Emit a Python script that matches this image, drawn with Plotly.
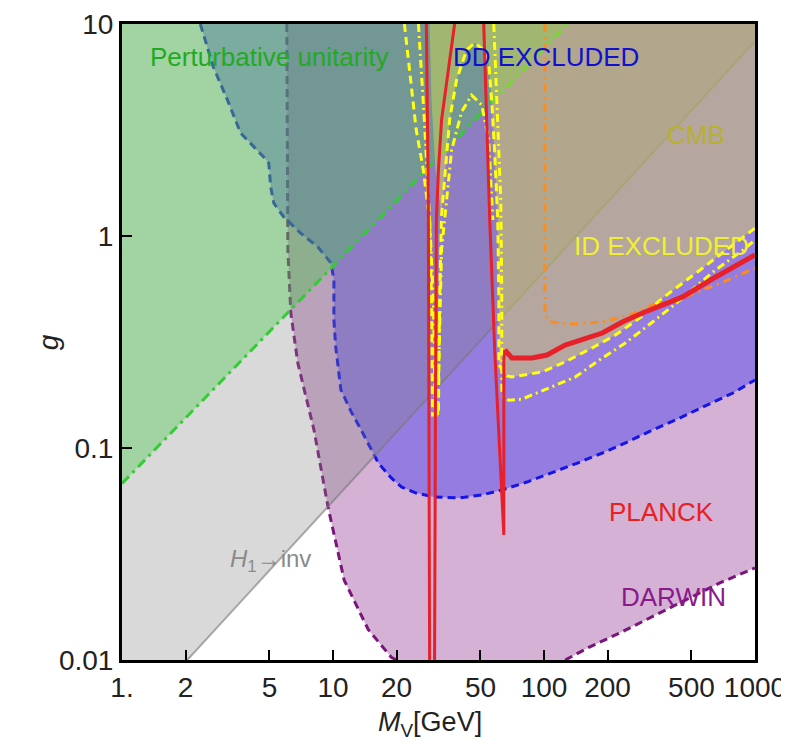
import plotly.graph_objects as go

# ---------------- data (M_V in GeV, g) ----------------
darwin_upper_M = [6.04, 6.11, 6.31, 6.81, 8.12, 9.47, 11.3, 14.7, 18.9, 19.95]
darwin_upper_g = [10, 0.859, 0.434, 0.252, 0.122, 0.0527, 0.0238, 0.0139, 0.0103, 0.01]
darwin_lower_M = [126, 164, 228, 327, 469, 681, 1000]
darwin_lower_g = [0.01, 0.0115, 0.0134, 0.016, 0.0192, 0.0231, 0.0272]

dd_M = [2.35, 2.71, 3.16, 3.65, 4.69, 4.96, 5.07, 5.24, 5.84, 7.04, 8.48, 9.78, 10.1, 10.1,
        10.3, 10.9, 12.2, 13.6, 16.4, 18.9, 21.1, 24.8, 30.3, 39.4, 50.7, 63.1, 83, 109, 144,
        189, 248, 327, 430, 565, 786, 1000]
dd_g = [10, 6.27, 4.38, 3.06, 2.36, 2.21, 1.70, 1.43, 1.23, 1.03, 0.887, 0.746, 0.62, 0.402,
        0.30, 0.188, 0.148, 0.1216, 0.0849, 0.0722, 0.0655, 0.0613, 0.0587, 0.0581, 0.060,
        0.0634, 0.0691, 0.0762, 0.0849, 0.0947, 0.1067, 0.1216, 0.137, 0.156, 0.1817, 0.2094]

pu_M = [1, 130]
pu_g = [0.068, 10]

inv_M = [2.04, 1000]
inv_g = [0.01, 8.3]

id_dash_M = [21.8, 24.8, 26.8, 28.7, 29.3, 29.6, 31.6, 32.0, 32.7, 35.7, 38.5, 43.0, 46.9, 51.8,
             54.7, 56.6, 58.4, 60.4, 61.1, 61.1, 66.7, 70.4, 97.8, 126, 169, 218, 293, 365, 565,
             786, 1000]
id_dash_g = [10, 3.16, 2.05, 1.19, 0.499, 0.143, 0.143, 0.499, 1.256, 3.53, 5.44, 7.54, 8.14, 7.54,
             6.55, 4.24, 2.46, 1.19, 0.499, 0.246, 0.2188, 0.2163, 0.2283, 0.2547, 0.2964, 0.341,
             0.4198, 0.51, 0.706, 0.907, 1.09]
id_edge_M = [28.7, 29.3, 30.6]
id_edge_g = [10, 4.38, 2.05]

id_dd_M = [25.4, 27.1, 28.7, 29.9, 30.6, None, 31.3, 32.7, 36.5, 40.7, 45.4, 50.7, 54.7, 57.2, None,
           57.8, 59.7, 62.4, 63.1, 63.1, 68.1, 78.6, 105.6, 140.5, 183, 243, 327, 454, 631, 877, 1000]
id_dd_g = [10, 3.53, 1.19, 0.499, 0.143, None, 0.143, 0.859, 2.55, 3.85, 4.62, 4.15, 2.84, 1.19, None,
           10, 4.38, 1.48, 0.499, 0.178, 0.168, 0.170, 0.192, 0.216, 0.26, 0.313, 0.393, 0.51, 0.676,
           0.859, 0.957]

cmb_M = [101, 101, 106.8, 136, 189, 262, 345, 454, 704, 1000]
cmb_g = [10, 0.424, 0.393, 0.3846, 0.393, 0.4286, 0.483, 0.51, 0.607, 0.706]

planck_left_M = [27.7, 28.3, 28.7, None, 37.7, 32.7, 31.6, 30.9, 30.6, 30.3]
planck_left_g = [10, 1.48, 0.01, None, 10, 3.53, 2.05, 1.19, 0.168, 0.01]
planck_right_M = [51.8, 53.5, 55.3, 58.4, 61.1, 64.5, 64.5, 64.5, 65.2]
planck_right_g = [10, 3.53, 1.19, 0.29, 0.109, 0.0389, 0.0979, 0.26, 0.29]
planck_high_M = [65.2, 70.4, 87.7, 103.3, 126, 189, 235, 293, 454, 652, 1000]
planck_high_g = [0.29, 0.2658, 0.2658, 0.2746, 0.306, 0.3486, 0.393, 0.4335, 0.516, 0.641, 0.814]

x_ticks = [1, 2, 5, 10, 20, 50, 100, 200, 500, 1000]
x_ticktext = ["1.", "2", "5", "10", "20", "50", "100", "200", "500", "1000"]
y_ticks = [0.01, 0.1, 1, 10]
y_ticktext = ["0.01", "0.1", "1", "10"]

FONT = "Liberation Sans, Arial, sans-serif"

fig = go.Figure()

def fill(xs, ys, color):
    fig.add_trace(go.Scatter(x=xs, y=ys, mode="lines", fill="toself", fillcolor=color,
                             line=dict(width=0), hoverinfo="skip", showlegend=False))

def line(xs, ys, color, width, dash="solid"):
    fig.add_trace(go.Scatter(x=xs, y=ys, mode="lines", line=dict(color=color, width=width, dash=dash),
                             connectgaps=False, hoverinfo="skip", showlegend=False))

# DARWIN
fill(darwin_upper_M + darwin_lower_M + [1000], darwin_upper_g + darwin_lower_g + [10],
     "rgba(150,60,150,0.40)")
line(darwin_upper_M + [None] + darwin_lower_M, darwin_upper_g + [None] + darwin_lower_g,
     "#7a157a", 3, "8px,5px")
# DD
fill(dd_M + [1000], dd_g + [10], "rgba(70,60,240,0.45)")
line(dd_M, dd_g, "#1515e6", 3, "8px,5px")
# H1 -> inv
fill([1] + inv_M + [1000, 1], [0.01] + inv_g + [10, 10], "rgba(128,128,128,0.30)")
line(inv_M, inv_g, "rgba(120,120,120,0.6)", 2)
# Perturbative unitarity
fill(pu_M + [1], pu_g + [10], "rgba(60,200,60,0.35)")
line(pu_M, pu_g, "#33cc33", 3, "10px,5px,3px,5px")
# ID excluded
fill(id_edge_M + id_dash_M[8:] + [1000], id_edge_g + id_dash_g[8:] + [10], "rgba(230,230,60,0.40)")
line(id_dash_M, id_dash_g, "#ffff10", 3, "8px,5px")
line(id_dd_M, id_dd_g, "#ffff10", 3, "8px,4px,2px,4px")
# CMB
line(cmb_M, cmb_g, "#ff8c1a", 3, "8px,5px,2px,5px")
# PLANCK
line(planck_left_M, planck_left_g, "#e8202a", 3)
line(planck_right_M, planck_right_g, "#e8202a", 3)
line(planck_high_M, planck_high_g, "#e8202a", 5)

def label(text, px, py, color, size=26):
    fig.add_annotation(text=text, x=px, y=py, xref="paper", yref="paper", showarrow=False,
                       xanchor="center", yanchor="middle", font=dict(family=FONT, size=size, color=color))

label("Perturbative unitarity", 0.2326, 0.9481, "#22aa22")
label("DD EXCLUDED", 0.6693, 0.9481, "#1010d0")
label("CMB", 0.9066, 0.8255, "#b8b030")
label("ID EXCLUDED", 0.8528, 0.651, "#f0f030")
label("PLANCK", 0.8528, 0.2327, "#e82020")
label("DARWIN", 0.8718, 0.099, "#8a1a8a")
label("<i>H</i><sub>1</sub>→inv", 0.234, 0.156, "#8a8a8a", 24)
label("<i>M</i><sub>V</sub>[GeV]", 0.486, -0.100, "#222222", 27)
fig.add_annotation(text="<i>g</i>", x=-0.144, y=0.50, xref="paper", yref="paper", showarrow=False,
                   textangle=-90, font=dict(family=FONT, size=28, color="#222222"))

axis_common = dict(showgrid=False, zeroline=False, showline=True, linewidth=3, linecolor="black",
                   mirror=True, ticks="inside", ticklen=10, tickwidth=2, tickcolor="black",
                   automargin=False,
                   tickfont=dict(family=FONT, size=28, color="#222222"))
fig.update_xaxes(type="log", range=[0, 3], tickvals=x_ticks, ticktext=x_ticktext, **axis_common)
fig.update_yaxes(type="log", range=[-2, 1], tickvals=y_ticks, ticktext=y_ticktext, **axis_common)

fig.update_layout(width=789, height=744, margin=dict(l=114, r=42, t=16, b=92),
                  paper_bgcolor="white", plot_bgcolor="white", showlegend=False)

fig.write_html("out.html")
